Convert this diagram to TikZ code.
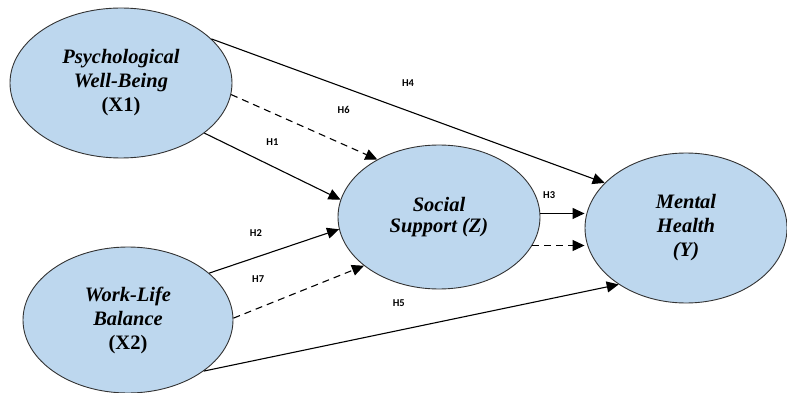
\documentclass[tikz,border=0pt]{standalone}
\usepackage{fontspec}
\setmainfont{Liberation Serif}
\newfontfamily\hfont{Carlito}
\usetikzlibrary{shapes.geometric,arrows.meta}
\definecolor{varblue}{RGB}{189,215,238}

\tikzset{
  construct/.style={ellipse,draw=black!80,line width=0.9pt,fill=varblue,inner sep=0pt,
    align=center,font=\fontsize{20.5}{24}\selectfont\bfseries},
  direct/.style={line width=1.1pt,-{Triangle[length=12pt,width=11pt]}},
  indirect/.style={direct,dash pattern=on 7pt off 5pt},
  hyp/.style={font=\hfont\fontsize{10.5}{12}\selectfont\bfseries,inner sep=0pt}
}

\begin{document}
\begin{tikzpicture}[x=1pt,y=-1pt]
\useasboundingbox (0,0) rectangle (787,393);

\node[construct,minimum width=222pt,minimum height=150pt] (x1) at (121,83)
  {\itshape Psychological\\ \itshape Well-Being\\ (X1)};
\node[construct,minimum width=210pt,minimum height=146pt] (x2) at (128,320)
  {\itshape Work-Life\\ \itshape Balance\\ (X2)};
\node[construct,minimum width=202pt,minimum height=144pt,font=\fontsize{20.5}{20.5}\selectfont\bfseries] (z) at (439,217)
  {\itshape Social\\ \itshape Support (Z)};
\node[construct,minimum width=202pt,minimum height=150pt] (y) at (686,228)
  {\itshape Mental\\ \itshape Health\\ \itshape (Y)};

\draw[direct] (x1.26) -- (y.151) node[hyp,pos=0.5,above=24pt]{H4};
\draw[indirect] (x1.-6) -- (z.137) node[hyp,pos=0.77,above=30pt]{H6};
\draw[direct] (x1.-31) -- (z.170) node[hyp,pos=0.5,above=20pt]{H1};
\draw[direct] (x2.30) -- (z.187) node[hyp,pos=0.36,above=20pt]{H2};
\draw[indirect] (x2.1) -- (z.213) node[hyp,pos=0.19,above=25pt]{H7};
\draw[direct] (x2.-34) -- (y.220) node[hyp,pos=0.47,above=23pt]{H5};
\draw[direct] (z.2) -- (z.2 -| y.west) node[hyp,pos=0.2,above=14pt]{H3};
\draw[indirect] (z.-17) -- (z.-17 -| y.west);

\end{tikzpicture}
\end{document}
